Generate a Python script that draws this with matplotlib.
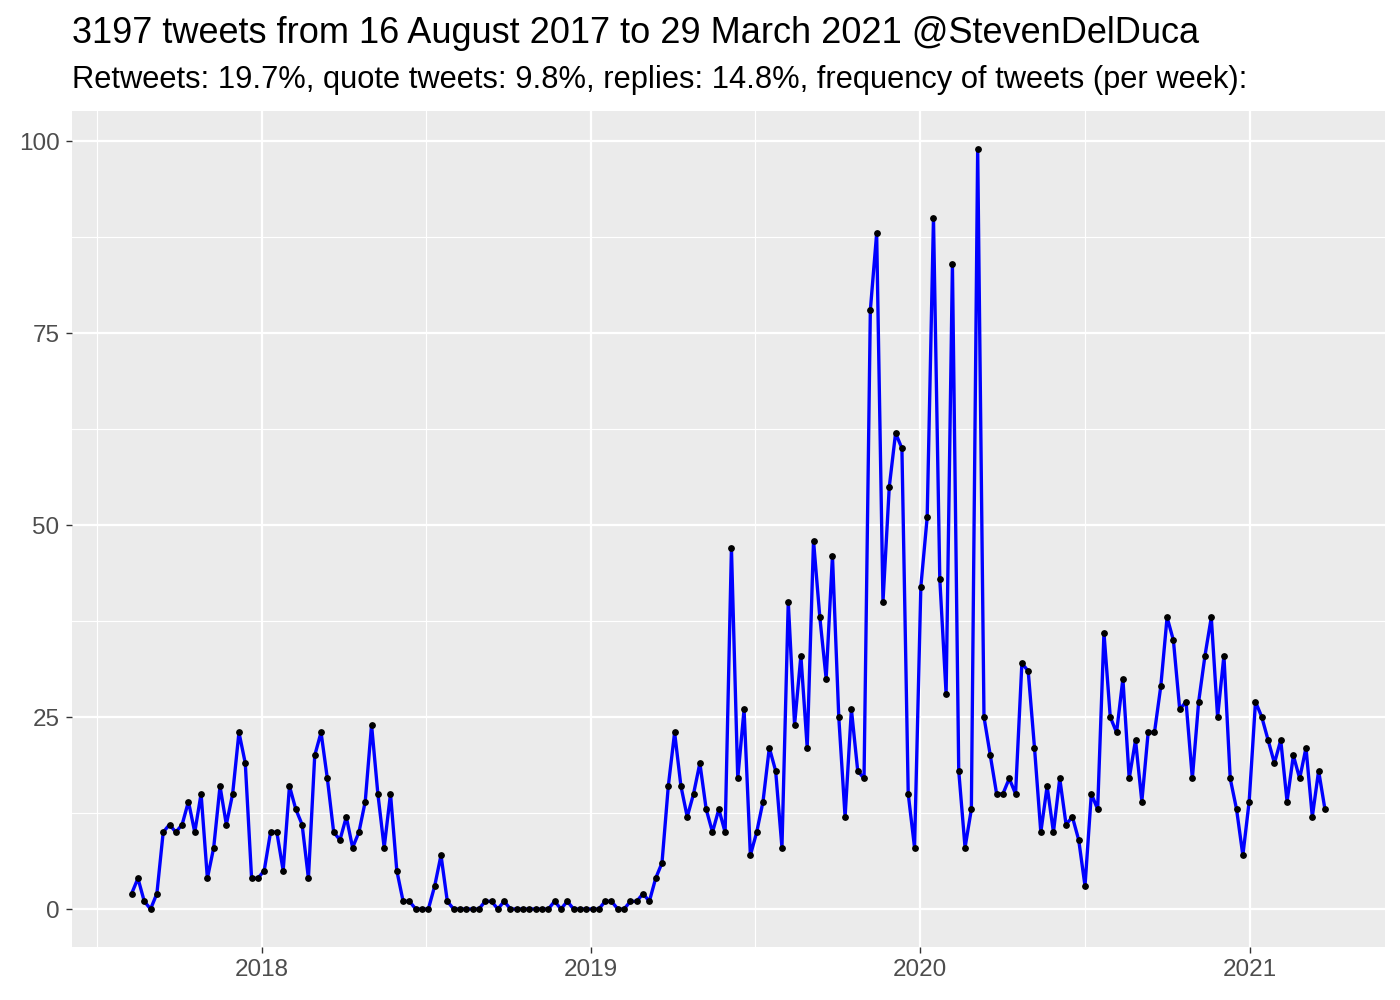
import matplotlib
matplotlib.use("Agg")
import matplotlib.pyplot as plt
import pandas as pd

plt.rcParams['font.family'] = ['Liberation Sans', 'DejaVu Sans']

# weekly tweet counts, one value per week
first_week = "2017-08-10"
counts = [2, 4, 1, 0, 2, 10, 11, 10, 11, 14,
          10, 15, 4, 8, 16, 11, 15, 23, 19, 4,
          4, 5, 10, 10, 5, 16, 13, 11, 4, 20,
          23, 17, 10, 9, 12, 8, 10, 14, 24, 15,
          8, 15, 5, 1, 1, 0, 0, 0, 3, 7,
          1, 0, 0, 0, 0, 0, 1, 1, 0, 1,
          0, 0, 0, 0, 0, 0, 0, 1, 0, 1,
          0, 0, 0, 0, 0, 1, 1, 0, 0, 1,
          1, 2, 1, 4, 6, 16, 23, 16, 12, 15,
          19, 13, 10, 13, 10, 47, 17, 26, 7, 10,
          14, 21, 18, 8, 40, 24, 33, 21, 48, 38,
          30, 46, 25, 12, 26, 18, 17, 78, 88, 40,
          55, 62, 60, 15, 8, 42, 51, 90, 43, 28,
          84, 18, 8, 13, 99, 25, 20, 15, 15, 17,
          15, 32, 31, 21, 10, 16, 10, 17, 11, 12,
          9, 3, 15, 13, 36, 25, 23, 30, 17, 22,
          14, 23, 23, 29, 38, 35, 26, 27, 17, 27,
          33, 38, 25, 33, 17, 13, 7, 14, 27, 25,
          22, 19, 22, 14, 20, 17, 21, 12, 18, 13]
weeks = pd.date_range(first_week, periods=len(counts), freq="7D")

title = "3197 tweets from 16 August 2017 to 29 March 2021 @StevenDelDuca"
subtitle = ("Retweets: 19.7%, quote tweets: 9.8%, replies: 14.8%, "
            "frequency of tweets (per week):")
year_ticks = pd.to_datetime(["2018-01-01", "2019-01-01", "2020-01-01", "2021-01-01"])
year_labels = ["2018", "2019", "2020", "2021"]
y_ticks = [0, 25, 50, 75, 100]

fig = plt.figure(figsize=(14, 10), dpi=100)
ax = fig.add_axes([0.0514, 0.053, 0.9376, 0.836])
ax.set_facecolor("#EBEBEB")

# ggplot-like grid, minor lines halfway between the years
all_years = pd.to_datetime(["2017-01-01"]).append(year_ticks).append(pd.to_datetime(["2022-01-01"]))
minor_x = [all_years[i] + (all_years[i + 1] - all_years[i]) / 2 for i in range(len(all_years) - 1)]
ax.set_xticks(year_ticks)
ax.set_xticks(minor_x, minor=True)
ax.set_yticks(y_ticks)
ax.set_yticks([12.5, 37.5, 62.5, 87.5], minor=True)
ax.grid(which="major", color="white", linewidth=1.6)
ax.grid(which="minor", color="white", linewidth=0.8)
ax.set_axisbelow(True)

ax.plot(weeks, counts, color="#0000FF", linewidth=2.4, zorder=3)
ax.scatter(weeks, counts, s=15, color="black", zorder=4)

span = weeks[-1] - weeks[0]
ax.set_xlim(weeks[0] - span * 0.05, weeks[-1] + span * 0.05)
ax.set_ylim(-4.95, 103.95)
ax.set_xticklabels(year_labels)

for s in ax.spines.values():
    s.set_visible(False)
ax.tick_params(which="major", length=4, width=1, color="#333333",
               labelsize=17.5, labelcolor="#4D4D4D", pad=5)
ax.tick_params(which="minor", length=0)

fig.text(0.0514, 0.957, title, fontsize=26, ha="left", va="baseline")
fig.text(0.0514, 0.912, subtitle, fontsize=22.2, ha="left", va="baseline")

fig.savefig("out.png", dpi=100)
